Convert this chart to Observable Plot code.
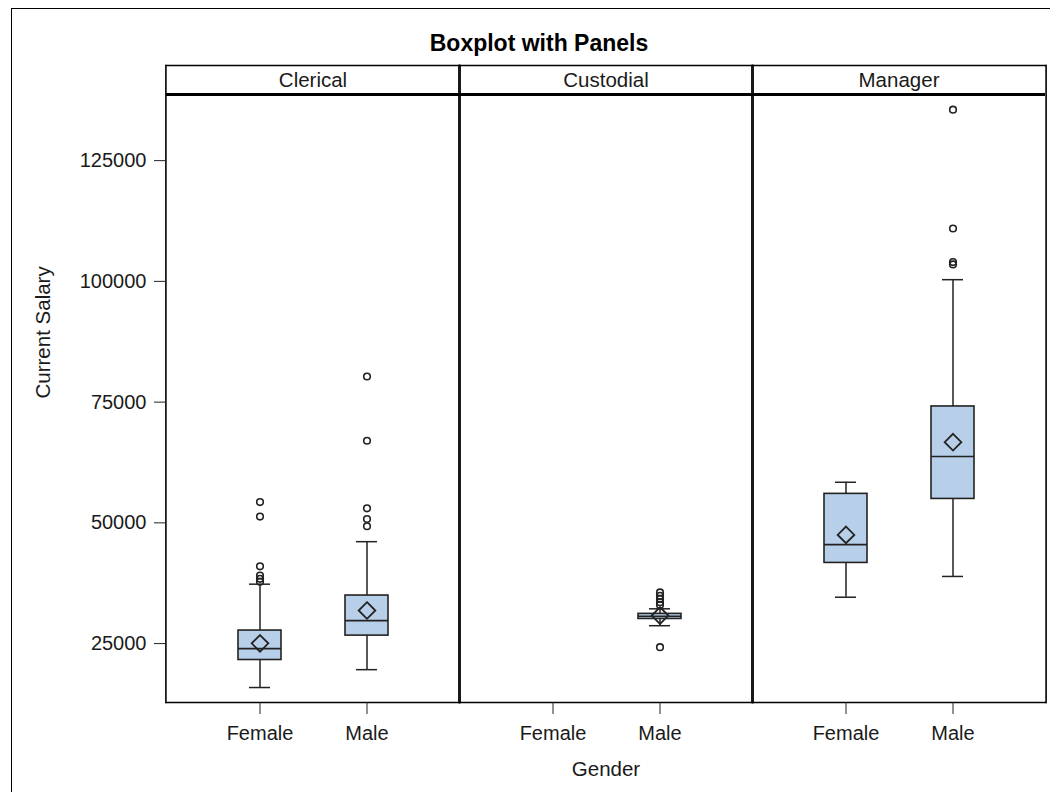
<!DOCTYPE html>
<html>
<head>
<meta charset="utf-8">
<script src="https://cdn.jsdelivr.net/npm/d3@7"></script>
<script src="https://cdn.jsdelivr.net/npm/@observablehq/plot@0.6"></script>
<style>
  html, body { margin: 0; padding: 0; background: #fff; overflow: hidden; }
  #page { position: relative; width: 1050px; height: 792px; overflow: hidden; }
  #border { position: absolute; left: 11px; top: 8px; width: 1100px; height: 900px; border: 1px solid #000; }
  #title { position: absolute; left: 0; top: 30px; width: 1078px; text-align: center;
           font-family: "Liberation Sans", Arial, sans-serif; font-weight: bold; font-size: 23px; line-height: 26px; color: #000; }
  #chart { position: absolute; left: 0; top: 0; }
</style>
</head>
<body>
<div id="page">
  <div id="border"></div>
  <div id="chart"></div>
  <div id="title">Boxplot with Panels</div>
</div>
<script>
// ---- Data ----
const jobCategories = ["Clerical", "Custodial", "Manager"];
const genderCategories = ["Female", "Male"];

// box summaries
const boxJob      = ["Clerical", "Clerical", "Custodial", "Manager", "Manager"];
const boxGender   = ["Female",   "Male",     "Male",      "Female",  "Male"];
const lowWhisker  = [15900, 19600, 28700, 34600, 38900];
const q1Values    = [21600, 26650, 30100, 41700, 54950];
const medians     = [23950, 29750, 30650, 45500, 63750];
const q3Values    = [27700, 34950, 31150, 56000, 74100];
const highWhisker = [37300, 46100, 32200, 58400, 100350];
const means       = [25050, 31850, 30800, 47500, 66700];

// outliers
const outlierJob = ["Clerical","Clerical","Clerical","Clerical","Clerical","Clerical",
                    "Clerical","Clerical","Clerical","Clerical","Clerical",
                    "Custodial","Custodial","Custodial","Custodial","Custodial","Custodial",
                    "Manager","Manager","Manager","Manager"];
const outlierGender = ["Female","Female","Female","Female","Female","Female",
                       "Male","Male","Male","Male","Male",
                       "Male","Male","Male","Male","Male","Male",
                       "Male","Male","Male","Male"];
const outlierSalary = [54300, 51300, 41000, 39100, 38400, 37800,
                       80300, 67000, 53000, 50800, 49300,
                       35600, 34900, 34250, 33550, 33000, 24250,
                       135550, 110950, 104000, 103500];

const yTicks = [25000, 50000, 75000, 100000, 125000];
const yBottom = 12800;     // bottom of the panels
const panelTop = 138700;   // top of the panels / bottom of header strip
const headerTop = 144700;  // top of header strip

// ---- Tables built from the arrays ----
const boxes = boxJob.map((j, i) => ({
  job: j, gender: boxGender[i], lo: lowWhisker[i], q1: q1Values[i],
  med: medians[i], q3: q3Values[i], hi: highWhisker[i], mean: means[i]
}));
const outliers = outlierJob.map((j, i) => ({job: j, gender: outlierGender[i], salary: outlierSalary[i]}));
const headers = jobCategories.map(j => ({job: j}));

const ink = "#222";
const boxFill = "#b8cfe9";

const chart = Plot.plot({
  width: 1050,
  height: 792,
  marginLeft: 165,
  marginRight: 5,
  marginTop: 65,
  marginBottom: 90,
  style: {fontFamily: "'Liberation Sans', Arial, sans-serif", fontSize: "20px", color: "#1a1a1a", background: "transparent"},
  fx: {domain: jobCategories, padding: 0, axis: null},
  x: {type: "band", domain: genderCategories, paddingInner: 0, paddingOuter: 0.369},
  y: {domain: [yBottom, headerTop]},
  marks: [
    // panel borders
    Plot.frame({anchor: "top", stroke: "#000", strokeWidth: 1.5}),
    Plot.frame({anchor: "bottom", stroke: "#000", strokeWidth: 1.5}),
    Plot.frame({anchor: "left", stroke: "#000", strokeWidth: 1.6, dx: -0.6}),
    Plot.frame({anchor: "right", stroke: "#000", strokeWidth: 1.6, dx: 0.6}),
    Plot.ruleY([panelTop], {stroke: "#000", strokeWidth: 3}),
    // header labels
    Plot.text(headers, {fx: "job", y: () => (panelTop + headerTop) / 2, text: "job", fontSize: 20.5, fill: "#1a1a1a"}),
    // axes
    Plot.axisY({ticks: yTicks, tickFormat: d => String(d), tickSize: 12, tickPadding: 8, label: null, fontSize: 20, stroke: ink}),
    Plot.axisX({tickSize: 12, tickPadding: 11, label: null, fontSize: 20, stroke: ink}),
    Plot.text([{job: "Clerical"}], {fx: "job", frameAnchor: "left", dx: -123, y: () => (yBottom + panelTop) / 2,
      rotate: -90, text: () => "Current Salary", fontSize: 20.5, fill: "#1a1a1a"}),
    Plot.text([{job: "Custodial"}], {fx: "job", frameAnchor: "bottom", dy: 73, lineAnchor: "bottom",
      text: () => "Gender", fontSize: 20.5, fill: "#1a1a1a"}),
    // whiskers
    Plot.ruleX(boxes, {fx: "job", x: "gender", y1: "lo", y2: "q1", stroke: ink, strokeWidth: 1.5}),
    Plot.ruleX(boxes, {fx: "job", x: "gender", y1: "q3", y2: "hi", stroke: ink, strokeWidth: 1.5}),
    Plot.tickY(boxes, {fx: "job", x: "gender", y: "lo", insetLeft: 43, insetRight: 43, stroke: ink, strokeWidth: 1.5}),
    Plot.tickY(boxes, {fx: "job", x: "gender", y: "hi", insetLeft: 43, insetRight: 43, stroke: ink, strokeWidth: 1.5}),
    // boxes
    Plot.barY(boxes, {fx: "job", x: "gender", y1: "q1", y2: "q3", insetLeft: 32, insetRight: 32,
      fill: boxFill, stroke: ink, strokeWidth: 1.6}),
    Plot.tickY(boxes, {fx: "job", x: "gender", y: "med", insetLeft: 32, insetRight: 32, stroke: ink, strokeWidth: 1.6}),
    // means
    Plot.dot(boxes, {fx: "job", x: "gender", y: "mean", symbol: "diamond2", r: 7.5, fill: "none", stroke: ink, strokeWidth: 1.8}),
    // outliers
    Plot.dot(outliers, {fx: "job", x: "gender", y: "salary", r: 3.3, fill: "none", stroke: ink, strokeWidth: 1.6})
  ]
});
document.getElementById("chart").appendChild(chart);
</script>
</body>
</html>
